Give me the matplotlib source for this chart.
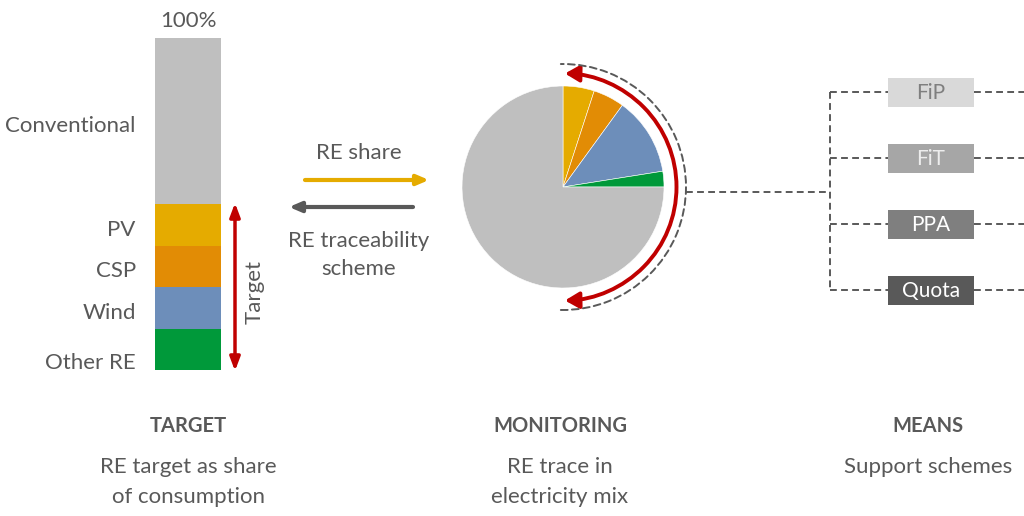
import matplotlib
matplotlib.use("Agg")
import matplotlib.pyplot as plt
import numpy as np
from matplotlib.patches import Rectangle, FancyArrowPatch
from matplotlib.path import Path
from matplotlib.transforms import Affine2D

# ---- data ----
bar_labels = ['Other RE', 'Wind', 'CSP', 'PV', 'Conventional']
bar_values = [12.5, 12.5, 12.5, 12.5, 50]
bar_colors = ['#00993A', '#6D8EBA', '#E28C05', '#E5AB00', '#BFBFBF']

pie_labels = ['PV', 'CSP', 'Wind', 'Other RE', 'Conventional']
pie_values = [5, 5, 12.5, 2.5, 75]
pie_colors = ['#E5AB00', '#E28C05', '#6D8EBA', '#00993A', '#BFBFBF']

schemes = ['FiP', 'FiT', 'PPA', 'Quota']
scheme_fill = ['#D9D9D9', '#A6A6A6', '#7F7F7F', '#595959']
scheme_text = ['#7F7F7F', '#EDEDED', '#FFFFFF', '#FFFFFF']

headings = ['TARGET', 'MONITORING', 'MEANS']
subtitles = ['RE target as share\nof consumption', 'RE trace in\nelectricity mix', 'Support schemes']

TXT = '#595959'
FONT = ['Lato', 'DejaVu Sans']
FS = 16
W, H = 1024, 516

plt.rcParams['font.family'] = FONT
fig = plt.figure(figsize=(W / 100, H / 100), dpi=100)

# overlay axes in pixel units (y measured from top)
ax = fig.add_axes([0, 0, 1, 1])
ax.set_xlim(0, W)
ax.set_ylim(H, 0)
ax.axis('off')


def fig_box(x0, y0, x1, y1):
    return [x0 / W, 1 - y1 / H, (x1 - x0) / W, (y1 - y0) / H]


def lines(x, y0, text, step, **kw):
    for i, ln in enumerate(text.split('\n')):
        ax.text(x, y0 + i * step, ln, ha='center', va='center', **kw)


# ---- stacked bar ----
bax = fig.add_axes(fig_box(155, 38, 221, 370))
bottoms = np.concatenate([[0], np.cumsum(bar_values)[:-1]])
bax.bar(0, bar_values, bottom=bottoms, width=1.0, color=bar_colors, linewidth=0)
bax.set_xlim(-0.5, 0.5)
bax.set_ylim(0, sum(bar_values))
bax.axis('off')
for lab, b, v in zip(bar_labels, bottoms, bar_values):
    yc = b + v / 2 - 1.5 - (2.5 if lab == 'Other RE' else 0)
    bax.text(-0.79, yc, lab, ha='right', va='center', fontsize=FS, color=TXT)
bax.text(0, sum(bar_values) + 5.0, f'{sum(bar_values):.0f}%', ha='center',
         va='center', fontsize=FS, color=TXT)

# target arrow
ax.annotate('', xy=(235, 203), xytext=(235, 371),
            arrowprops=dict(arrowstyle='<|-|>,head_length=0.8,head_width=0.3',
                            color='#C00000', lw=2.5, shrinkA=0, shrinkB=0))
ax.text(255, 292, 'Target', rotation=90, ha='center', va='center',
        fontsize=FS, color=TXT)

# ---- middle arrows ----
ax.annotate('', xy=(429, 180), xytext=(305, 180),
            arrowprops=dict(arrowstyle='-|>,head_length=0.7,head_width=0.3',
                            color='#E5AB00', lw=3, shrinkA=0, shrinkB=0))
ax.annotate('', xy=(289, 207), xytext=(413, 207),
            arrowprops=dict(arrowstyle='-|>,head_length=0.7,head_width=0.3',
                            color='#595959', lw=3, shrinkA=0, shrinkB=0))
ax.text(359, 153, 'RE share', ha='center', va='center', fontsize=FS, color=TXT)
lines(359, 241, 'RE traceability\nscheme', 28, fontsize=FS, color=TXT)

# ---- pie ----
cx, cy, r = 563, 187, 101
pax = fig.add_axes(fig_box(cx - r, cy - r, cx + r, cy + r))
wedges, _ = pax.pie(pie_values, colors=pie_colors, startangle=90, counterclock=False,
                    radius=1.0, wedgeprops=dict(edgecolor='white', linewidth=0.4))
pax.set_xlim(-1, 1)
pax.set_ylim(-1, 1)
pax.axis('off')
for w in wedges:
    w.set_clip_on(False)


def arc_path(radius, t1, t2):
    p = Path.arc(t1, t2)
    # overlay y axis points down, so flip the unit arc vertically
    return Affine2D().scale(radius, -radius).translate(cx, cy).transform_path(p)


# red double arc arrow
red = arc_path(113.5, -89, 89)
ax.add_patch(FancyArrowPatch(path=red, arrowstyle='<|-|>,head_length=6,head_width=3.5',
                             color='#C00000', lw=2.8, mutation_scale=1.4,
                             shrinkA=0, shrinkB=0))
# dashed arc
dash = arc_path(123, -91, 91)
ax.add_patch(FancyArrowPatch(path=dash, arrowstyle='-', color='#595959', lw=1.4,
                             linestyle=(0, (3.5, 2.2)), shrinkA=0, shrinkB=0))

# ---- means tree ----
rows = [92, 158, 224, 290]
dkw = dict(color='#595959', lw=1.4, linestyle=(0, (3.5, 2.2)))
ax.plot([cx + 123, 830], [cy + 5, cy + 5], **dkw)
ax.plot([830, 830], [rows[0], rows[-1]], **dkw)
for yr, name, fc, tc in zip(rows, schemes, scheme_fill, scheme_text):
    ax.plot([830, 888], [yr, yr], **dkw)
    ax.plot([974, W], [yr, yr], **dkw)
    ax.add_patch(Rectangle((888, yr - 14.5), 86, 29, facecolor=fc, edgecolor='none'))
    ax.text(931, yr + 1, name, ha='center', va='center', fontsize=15, color=tc)

# ---- bottom captions ----
for xc, head, sub in zip([188, 560, 928], headings, subtitles):
    ax.text(xc, 426, head, ha='center', va='center', fontsize=14.5,
            color=TXT, fontweight='bold')
    lines(xc, 467, sub, 30, fontsize=FS, color=TXT)

fig.savefig('out.png', dpi=100)
